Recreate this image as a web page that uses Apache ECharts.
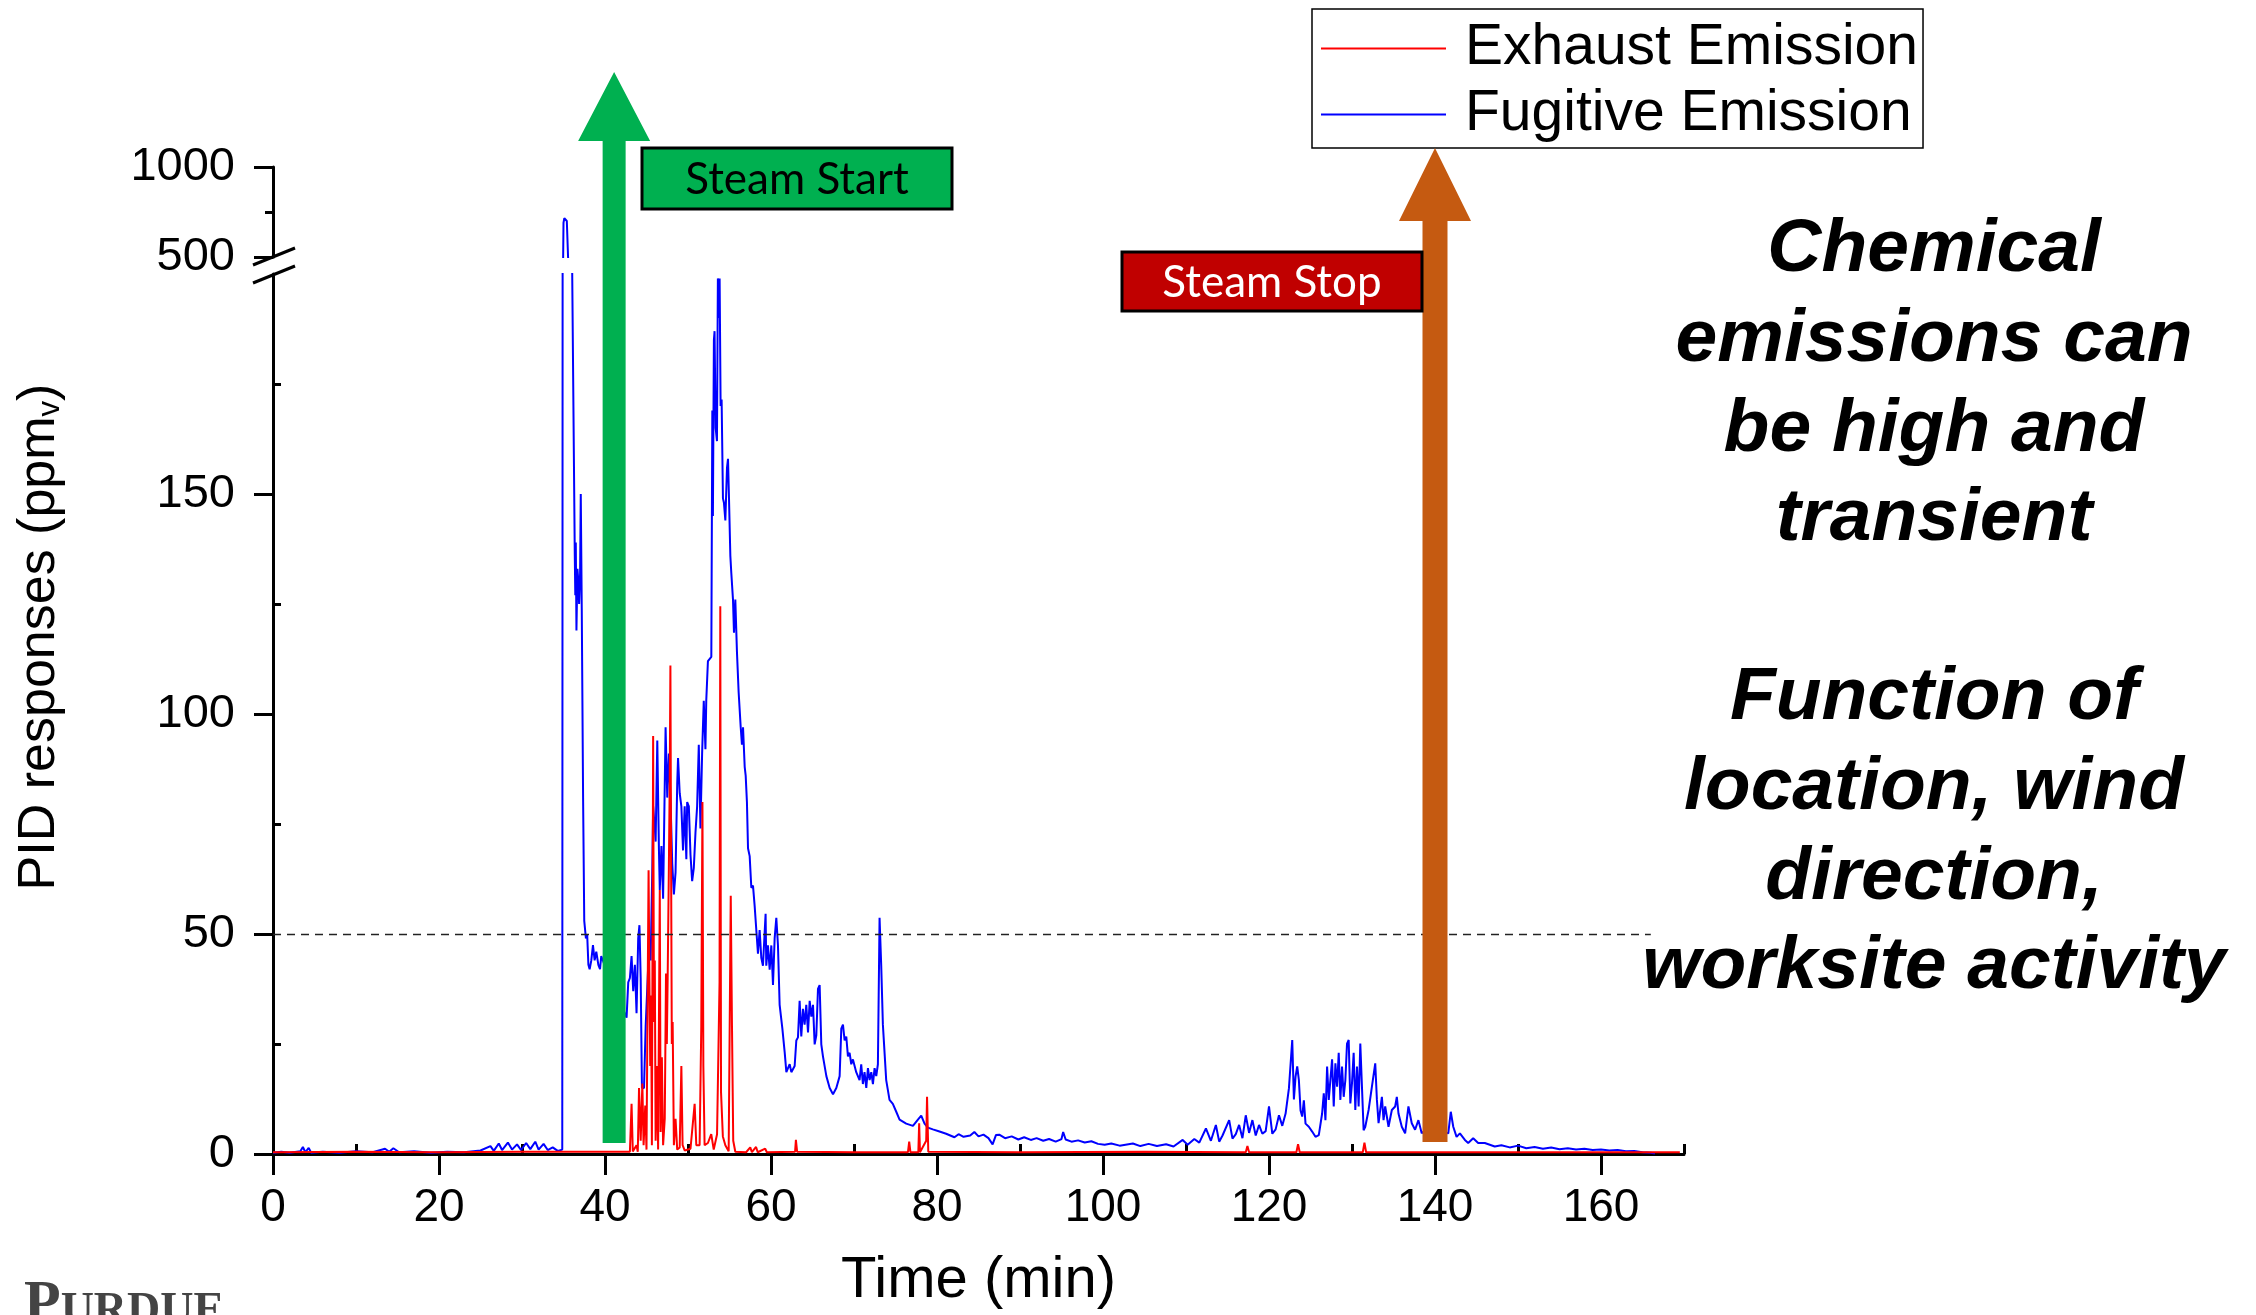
<!DOCTYPE html>
<html>
<head>
<meta charset="utf-8">
<title>PID responses</title>
<script src="https://cdn.jsdelivr.net/npm/echarts@6/dist/echarts.min.js"></script>
<style>
  html, body { margin: 0; background: #fff; }
  #pid { width: 2256px; height: 1315px; }
</style>
</head>
<body>
<div id="pid"></div>
<script>
// [time (min), PID response (ppmv)]
const fugitive = [
  [0,0.3],[1,0.5],[2,0.3],[3.3,0.6],[3.6,1.6],[3.9,0.4],[4.3,1.4],[4.6,0.3],[6,0.5],[8,0.3],[10,0.6],[12,0.4],
  [13.5,1.2],[14,0.5],[14.5,1.3],[15.2,0.4],[17,0.6],[19,0.3],[21,0.5],[23,0.4],[25,0.8],[26.2,1.8],[26.6,0.7],
  [27.2,2.4],[27.6,0.9],[28.3,2.6],[28.8,1.0],[29.4,2.2],[29.9,0.9],[30.5,2.5],[31,1.1],[31.6,2.8],[32,1.0],
  [32.6,2.3],[33.1,0.9],[33.7,1.5],[34.3,0.7],[34.85,1.0],
  [35.0,690],[35.1,715],[35.25,720],[35.4,700],[35.55,500],[35.8,330],[36.05,200],[36.36,136],[36.42,127],
  [36.48,139],[36.56,119],[36.68,133],[36.8,130],[36.88,125],[37.0,132],[37.08,150],[37.2,124],[37.36,81],[37.5,53],
  [37.7,49],[37.85,50],[38.0,43],[38.15,42],[38.35,44],[38.55,47.5],[38.75,44],[38.95,46],[39.2,43],[39.4,42],
  [39.55,45],[40.5,40],[41.5,36],[42.6,31],[42.8,39],[43.0,40],[43.2,45],[43.4,37],[43.6,43],[43.8,32],[44.0,49],
  [44.15,52],[44.3,40],[44.45,15],[44.7,15],[44.9,29],[45.1,38],[45.3,47],[45.5,44],[45.7,65],
  [45.8,79],[46.0,74],[46.1,71],[46.3,94],[46.4,81],[46.5,69],[46.6,60],[46.8,70],[47.0,58],[47.1,71],[47.3,97],
  [47.5,81],[47.7,91],[47.9,80],[48.1,66],[48.3,59],[48.5,64],[48.7,84],[48.8,90],[49.0,82],[49.2,79],[49.4,69],
  [49.6,79],[49.8,67],[49.9,80],[50.1,79],[50.3,68],[50.5,62],[50.7,65],[50.9,73],[51.1,79],[51.3,93],[51.5,74],
  [51.7,91],[51.9,103],[52.1,92],[52.2,103],[52.4,112],
  [52.61,112],[52.81,113],[52.93,169],[53.0,145],[53.12,185],[53.2,187],[53.33,165],[53.49,162],[53.6,199],
  [53.73,190],[53.81,199],[53.93,170],[54.05,171.5],[54.21,149],[54.33,148],[54.5,144],[54.7,156],[54.82,158],
  [54.94,149],[55.1,136],[55.22,132],[55.42,126],[55.54,118.5],[55.7,126],[55.9,114],[56.1,105],[56.35,97],
  [56.5,93],[56.63,97],[56.83,88],[56.95,86],[57.1,80],
  [57.23,69.5],[57.43,67.7],[57.63,60.5],[57.83,61],[58.03,56.4],[58.23,50.9],[58.43,45.5],[58.63,50.9],
  [58.83,44.6],[59.03,42.8],[59.35,54.6],[59.43,42.8],[59.63,47.4],[59.84,41.9],[60.04,47.4],[60.24,38.4],
  [60.44,49],[60.64,53.7],[60.84,47.4],[61.04,33.9],[61.37,28.5],[61.65,23.1],[61.85,18.6],[62.05,19.5],
  [62.25,20.4],[62.45,18.6],[62.65,18.6],[62.85,20],[63.05,25.8],[63.25,26.5],[63.45,34.8],[63.65,26.7],
  [63.85,33],[64.05,29.4],[64.25,33.9],[64.46,27.6],[64.66,34.8],[64.86,31.2],[65.06,33.9],[65.26,24.9],
  [65.46,27],[65.66,37.5],[65.86,38.4],[66.06,24.9],[66.26,22.2],[66.67,17.7],[67.07,15],[67.47,13.6],
  [67.87,15],[68.27,17.7],[68.47,28.5],[68.67,29.4],[68.87,25.8],[69.07,26.7],[69.27,22.2],[69.47,23],
  [69.67,20.4],[69.87,21.5],[70.27,18.6],[70.67,16.8],[70.87,20.4],[71.07,15.9],[71.27,18.6],[71.48,15],
  [71.68,19.5],[71.88,16.8],[72.08,18.6],[72.28,15.9],[72.48,19.5],[72.68,17.7],[72.88,20.4],[73.08,53.7],
  [73.28,42.8],[73.48,29.4],[73.88,16.8],[74.28,12.3],[74.68,11.4],[75.09,9.6],[75.49,7.8],[76.29,6.9],
  [77.1,6.4],[77.7,7.8],[78.1,8.7],[78.5,6.9],[78.9,6],[79.5,5.6],[80.3,5.1],[81.1,4.6],
  [82.1,3.8],[82.6,4.5],[83.2,3.9],[84.0,4.2],[84.5,5.0],[85.0,4.0],[85.6,4.4],[86.2,3.6],[86.7,2.2],[87.1,4.3],
  [87.5,4.4],[88.2,3.6],[89,4.0],[89.8,3.3],[90.5,3.8],[91.3,3.2],[92,3.6],[92.8,3.0],[93.5,3.4],[94.3,2.8],
  [95.0,3.4],[95.2,5.0],[95.5,3.3],[96.2,2.8],[97,3.1],[97.8,2.6],[98.6,2.9],[99.4,2.3],[100.2,2.1],
  [101,2.4],[102,1.9],[103.6,2.4],[104.5,1.8],[105.5,2.3],[106.5,1.8],[107.6,2.2],[108.5,1.7],[109.6,3.2],
  [110.2,2.1],[111,3.4],[111.6,2.6],[112.4,5.8],[113,3.0],[113.6,6.6],[114,2.8],[114.4,4.2],[115.2,7.7],
  [115.6,3.5],[116,4.5],[116.4,6.6],[116.8,3.6],[117.2,8.8],[117.6,4.8],[118,7.7],[118.4,4.2],[118.8,6.6],
  [119.2,4.6],[119.6,5.2],[120,10.8],[120.4,4.6],[120.8,5.6],[121.2,8.8],[121.6,6.4],[122,9.2],[122.4,14.9],
  [122.8,25.9],[123.0,12.4],[123.2,17.6],[123.4,19.9],[123.6,16.8],[123.8,9.9],[124,8.5],[124.2,12.2],
  [124.4,6.9],[124.8,6.2],[125.2,5.1],[125.6,3.9],[126,4.3],[126.4,9.2],[126.6,13.8],[126.8,7.7],[127,19.9],
  [127.2,12.3],[127.6,21.5],[127.8,10.8],[128,20.6],[128.2,15.3],[128.4,23],[128.6,12.3],[128.8,19.9],
  [129,13],[129.2,16.8],[129.4,25.1],[129.6,25.9],[129.8,11.5],[130,16.1],[130.2,23],[130.4,10],[130.6,19.9],
  [130.8,10.8],[131,25.1],[131.2,15.3],[131.4,5.4],[131.6,6.2],[132,10],[132.4,15.3],[132.8,20.6],[133,12.3],
  [133.2,7],[133.6,13],[133.8,7.7],[134,10.8],[134.4,6.2],[134.8,10],[135.2,10.8],[135.4,13],[135.6,9.2],
  [136,6.2],[136.4,4.7],[136.8,10.8],[137.2,7],[137.6,5.5],[138,7.7],[138.4,4.7],[139.2,6],[140.4,5],
  [141.2,4.8],[141.6,4.7],[141.9,9.6],[142.2,6.2],[142.6,3.9],[143,4.7],[143.2,4.3],[143.6,3.2],[144,2.5],
  [144.6,3.6],[145.2,2.5],[146,2.5],[147.2,1.7],[148,2.0],[149,1.5],[150,1.9],[151,1.3],[152,1.6],[153,1.2],
  [154,1.5],[155,1.1],[156,1.3],[157,1.0],[158,1.2],[159,0.9],[160,1.0],[161,0.8],[162,0.9],[163,0.6],
  [164,0.7],[165,0.4],[166,0.3],[166.5,0.1]
];

const exhaust = [
  [0,0.4],[10,0.5],[20,0.4],[30,0.5],[43.0,0.5],[43.2,11.4],[43.35,0.6],[43.8,2],[43.95,0.5],[44.1,15],
  [44.3,3],[44.5,16],[44.65,2],[44.85,11],[45.0,1],[45.25,64.5],[45.35,40],[45.45,20],[45.55,36],[45.65,2],
  [45.8,95],[45.9,30],[46.0,44],[46.1,3],[46.25,20],[46.4,1],[46.6,60],[46.7,5],[46.85,22],[47.0,2],[47.2,8],
  [47.35,41],[47.45,25],[47.55,40],[47.7,66],[47.8,85],[47.88,111],[47.96,68],[48.05,25],[48.15,30],[48.3,2],
  [48.5,8],[48.7,1],[49.0,1.5],[49.2,20],[49.35,2],[49.6,0.8],[50.3,1.2],[50.8,11.4],[51.0,2],[51.4,2],
  [51.6,29],[51.74,80],[51.85,20],[52.0,2],[52.4,2.5],[52.8,4.5],[53.1,1],[53.5,4.5],[53.8,39],[53.89,124.5],
  [53.98,14],[54.2,4],[54.5,2],[54.9,0.6],[55.15,58.7],[55.3,29],[55.45,3],[55.7,0.5],[57,0.4],[57.5,1.5],
  [57.7,0.4],[58.2,1.6],[58.4,0.4],[59.3,1.2],[59.5,0.4],[62.9,0.5],[63.0,3.2],[63.15,0.5],[70,0.4],
  [76.5,0.4],[76.65,2.8],[76.8,0.4],[77.75,0.4],[77.85,7],[77.95,0.4],[78.7,3],[78.8,13],[78.95,0.5],
  [90,0.4],[105,0.5],[117.2,0.4],[117.4,1.8],[117.6,0.4],[123.3,0.4],[123.5,2.2],[123.7,0.4],[131.3,0.4],
  [131.5,2.6],[131.7,0.4],[150,0.4],[169.5,0.4]
];

const xMajorTicks = [0, 20, 40, 60, 80, 100, 120, 140, 160];
const xMinorTicks = [10, 30, 50, 70, 90, 110, 130, 150, 170];
const yLowMajor = [0, 50, 100, 150];
const yLowMinor = [25, 75, 125, 175];
const threshold = [[0, 50], [166, 50]];
const steamStart = 41.1;
const steamStop = 140;

const FONT = '"Liberation Sans", Arial, sans-serif';
const black = { color: '#000', width: 3 };
const plain = v => String(v);

const chart = echarts.init(document.getElementById('pid'));

const option = {
  animation: false,
  backgroundColor: '#fff',
  grid: [
    { left: 273, top: 167, width: 1411, height: 90, outerBoundsMode: 'none' },
    { left: 273, top: 274, width: 1411, height: 880, outerBoundsMode: 'none' }
  ],
  legend: {
    orient: 'vertical',
    left: 1312,
    top: 9,
    data: ['Exhaust Emission', 'Fugitive Emission'],
    icon: 'rect',
    itemWidth: 125,
    itemHeight: 2,
    itemGap: 5,
    padding: [9, 5, 3, 9],
    borderColor: '#000',
    borderWidth: 1.5,
    selectedMode: false,
    textStyle: { fontSize: 57, fontFamily: FONT, color: '#000', lineHeight: 61, padding: [0, 0, 0, 14] }
  },
  xAxis: [
    { gridIndex: 0, type: 'value', min: 0, max: 170, show: false },
    {
      gridIndex: 1, type: 'value', min: 0, max: 170, interval: 20,
      name: 'Time (min)', nameLocation: 'middle', nameGap: 98,
      nameTextStyle: { fontSize: 58, fontFamily: FONT, color: '#000' },
      axisLine: { show: true, onZero: false, lineStyle: black },
      axisTick: { show: true, length: 21, lineStyle: black, customValues: xMajorTicks },
      axisLabel: { fontSize: 46, fontFamily: FONT, color: '#000', margin: 31, customValues: xMajorTicks, formatter: plain },
      splitLine: { show: false }
    },
    {
      gridIndex: 1, type: 'value', min: 0, max: 170,
      axisLine: { show: false },
      axisTick: { show: true, length: 10, lineStyle: black, customValues: xMinorTicks },
      axisLabel: { show: false },
      splitLine: { show: false }
    }
  ],
  yAxis: [
    {
      gridIndex: 0, type: 'value', min: 500, max: 1000, interval: 500,
      axisLine: { show: true, lineStyle: black },
      axisTick: { show: true, length: 19, lineStyle: black },
      minorTick: { show: true, splitNumber: 2, length: 8, lineStyle: black },
      axisLabel: { fontSize: 47, fontFamily: FONT, color: '#000', margin: 38, formatter: plain },
      splitLine: { show: false }
    },
    {
      gridIndex: 1, type: 'value', min: 0, max: 200, interval: 50,
      axisLine: { show: true, onZero: false, lineStyle: black },
      axisTick: { show: true, length: 19, lineStyle: black, customValues: yLowMajor },
      axisLabel: { fontSize: 47, fontFamily: FONT, color: '#000', margin: 38, customValues: yLowMajor, formatter: plain },
      splitLine: { show: false }
    },
    {
      gridIndex: 1, type: 'value', min: 0, max: 200,
      axisLine: { show: false },
      axisTick: { show: true, length: 8, lineStyle: black, customValues: yLowMinor },
      axisLabel: { show: false },
      splitLine: { show: false }
    }
  ],
  series: [
    {
      name: 'Fugitive Emission', type: 'line', xAxisIndex: 0, yAxisIndex: 0,
      data: fugitive, showSymbol: false, symbol: 'none', sampling: 'none',
      color: '#0000ff', lineStyle: { width: 2, color: '#0000ff' }
    },
    {
      name: 'Fugitive Emission', type: 'line', xAxisIndex: 1, yAxisIndex: 1,
      data: fugitive, showSymbol: false, symbol: 'none', sampling: 'none',
      color: '#0000ff', lineStyle: { width: 2, color: '#0000ff' },
      markLine: {
        silent: true, symbol: 'none', label: { show: false },
        lineStyle: { color: '#222', width: 1.4, type: [8, 6] },
        data: [[{ coord: threshold[0] }, { coord: threshold[1] }]]
      }
    },
    {
      name: 'Exhaust Emission', type: 'line', xAxisIndex: 1, yAxisIndex: 1,
      data: exhaust, showSymbol: false, symbol: 'none', sampling: 'none',
      color: '#ff0000', lineStyle: { width: 2, color: '#ff0000' }
    }
  ]
};

chart.setOption(option);

// arrows placed from the event times through the x scale
const startX = chart.convertToPixel({ xAxisIndex: 1 }, steamStart);
const stopX = chart.convertToPixel({ xAxisIndex: 1 }, steamStop);

function arrow(cx, tip, head, bottom, shaft, half, color) {
  return {
    type: 'polygon', z: 100,
    shape: { points: [
      [cx - shaft, bottom], [cx + shaft, bottom], [cx + shaft, head], [cx + half, head],
      [cx, tip], [cx - half, head], [cx - shaft, head]
    ] },
    style: { fill: color }
  };
}

const noteLines = [
  'Chemical', 'emissions can', 'be high and', 'transient', '',
  'Function of', 'location, wind', 'direction,', 'worksite activity'
];

chart.setOption({
  graphic: [
    arrow(startX, 72, 141, 1143, 11.5, 36, '#00B050'),
    arrow(stopX, 148, 221, 1142, 12.5, 36, '#C55A11'),
    {
      type: 'rect', z: 101, shape: { x: 642, y: 148, width: 310, height: 61 },
      style: { fill: '#00B050', stroke: '#000', lineWidth: 3 }
    },
    {
      type: 'text', z: 102, x: 797, y: 180,
      style: { text: 'Steam Start', fontSize: 44, fontFamily: 'Lato, "Open Sans", sans-serif', fill: '#000', align: 'center', verticalAlign: 'middle' }
    },
    {
      type: 'rect', z: 101, shape: { x: 1122, y: 252, width: 300, height: 59 },
      style: { fill: '#C00000', stroke: '#000', lineWidth: 3 }
    },
    {
      type: 'text', z: 102, x: 1272, y: 283,
      style: { text: 'Steam Stop', fontSize: 44, fontFamily: 'Lato, "Open Sans", sans-serif', fill: '#fff', align: 'center', verticalAlign: 'middle' }
    },
    // axis break marks
    {
      type: 'line', z: 50, shape: { x1: 253, y1: 265, x2: 295, y2: 248 },
      style: { stroke: '#000', lineWidth: 3 }
    },
    {
      type: 'line', z: 50, shape: { x1: 253, y1: 283, x2: 295, y2: 266 },
      style: { stroke: '#000', lineWidth: 3 }
    },
    {
      type: 'text', x: 40, y: 637, rotation: Math.PI / 2,
      style: {
        text: 'PID responses (ppm{s|v})',
        fontSize: 52, fontFamily: FONT, fill: '#000', align: 'center', verticalAlign: 'middle',
        rich: { s: { fontSize: 31, fontFamily: FONT, fill: '#000', verticalAlign: 'bottom', lineHeight: 18 } }
      }
    },
    {
      type: 'text', x: 1934, y: 206,
      style: {
        text: noteLines.join('\n'),
        font: 'italic bold 75px "Liberation Sans", Arial, sans-serif',
        fill: '#000', align: 'center', verticalAlign: 'top', lineHeight: 89.6
      }
    },
    {
      type: 'text', x: 24, y: 1275,
      style: {
        text: '{p|P}{u|URDUE}', verticalAlign: 'top',
        rich: {
          p: { fontSize: 60, fontFamily: '"Liberation Serif", serif', fontWeight: 'bold', fill: '#444', verticalAlign: 'bottom' },
          u: { fontSize: 46, fontFamily: '"Liberation Serif", serif', fontWeight: 'bold', fill: '#444', verticalAlign: 'bottom' }
        }
      }
    }
  ]
});
</script>
</body>
</html>
